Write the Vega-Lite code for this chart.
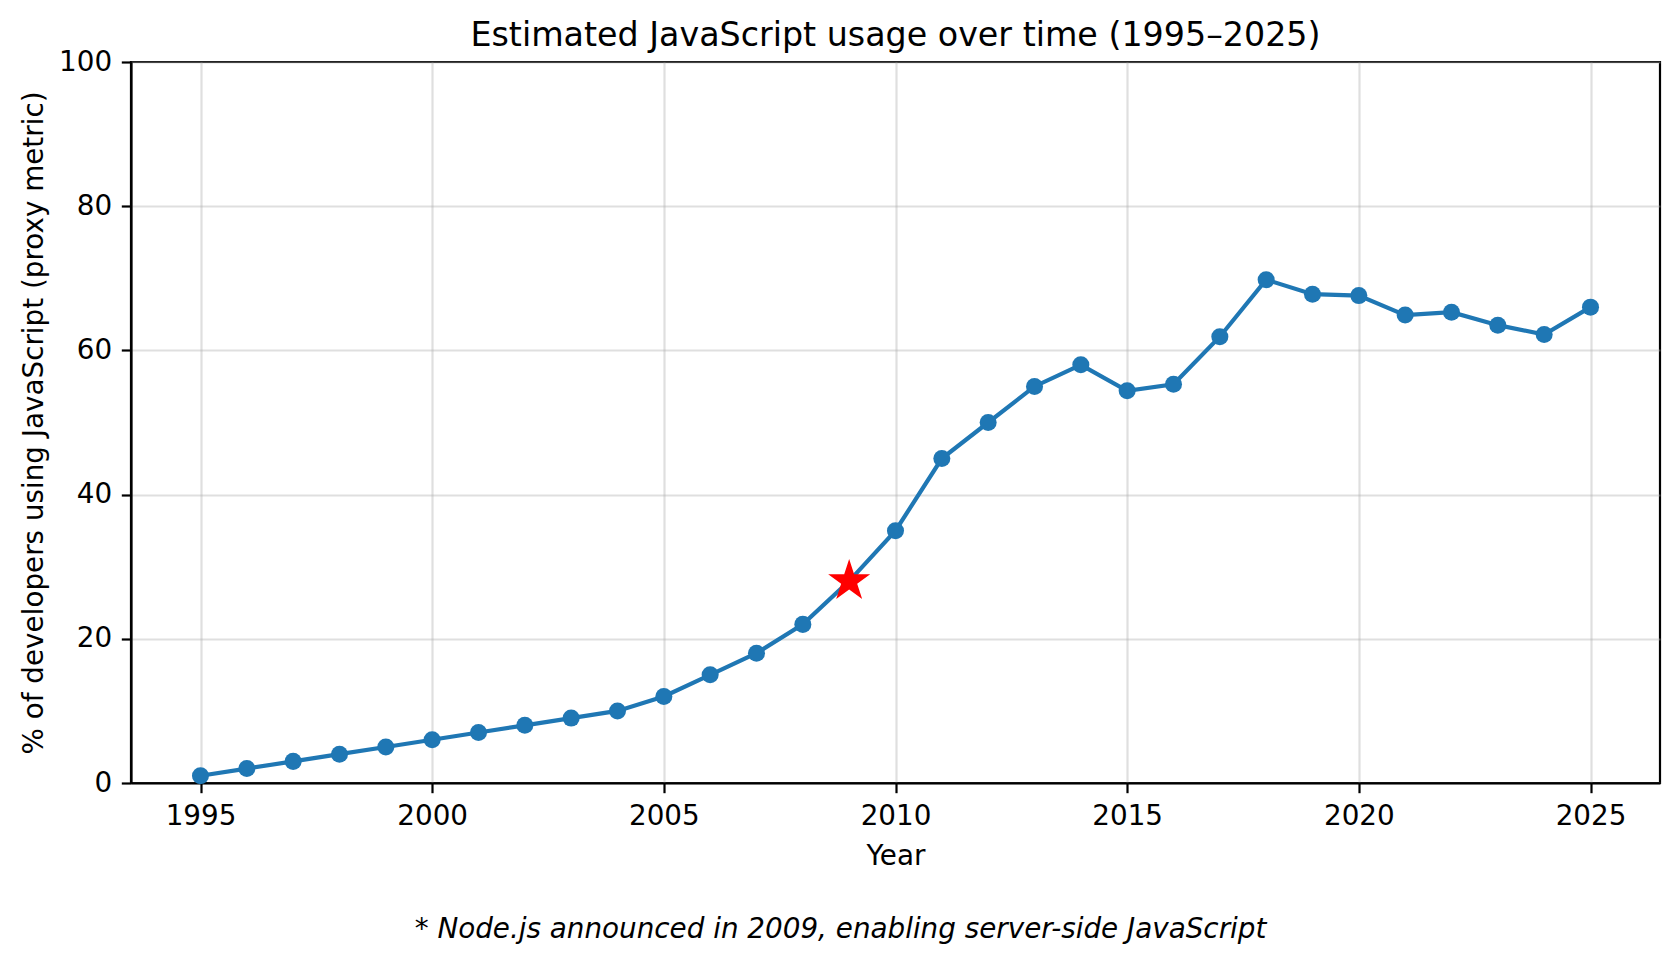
{
  "$schema": "https://vega.github.io/schema/vega-lite/v6.json",
  "width": 1529,
  "height": 721,
  "autosize": {"type": "none"},
  "padding": {"left": 131, "top": 62, "right": 20, "bottom": 181},
  "background": "white",
  "title": {
    "text": "Estimated JavaScript usage over time (1995–2025)",
    "font": "DejaVu Sans",
    "fontSize": 33.3,
    "fontWeight": "normal",
    "color": "black",
    "anchor": "middle",
    "baseline": "alphabetic",
    "offset": 16,
    "dy": 47.5
  },
  "config": {
    "view": {"stroke": "black", "strokeWidth": 2.2},
    "axis": {
      "labelFont": "DejaVu Sans",
      "titleFont": "DejaVu Sans",
      "labelFontSize": 27.8,
      "titleFontSize": 27.8,
      "labelColor": "black",
      "titleColor": "black",
      "titleFontWeight": "normal",
      "domainColor": "black",
      "domainWidth": 2.2,
      "tickColor": "black",
      "tickWidth": 2.2,
      "tickSize": 9.7,
      "labelPadding": 9.7,
      "gridColor": "#b0b0b0",
      "gridOpacity": 0.4,
      "gridWidth": 2.2,
      "labelFlush": false,
      "labelOverlap": false
    }
  },
  "data": {
    "values": [
      {"year": 1995, "pct": 1},
      {"year": 1996, "pct": 2},
      {"year": 1997, "pct": 3},
      {"year": 1998, "pct": 4},
      {"year": 1999, "pct": 5},
      {"year": 2000, "pct": 6},
      {"year": 2001, "pct": 7},
      {"year": 2002, "pct": 8},
      {"year": 2003, "pct": 9},
      {"year": 2004, "pct": 10},
      {"year": 2005, "pct": 12},
      {"year": 2006, "pct": 15},
      {"year": 2007, "pct": 18},
      {"year": 2008, "pct": 22},
      {"year": 2009, "pct": 28},
      {"year": 2010, "pct": 35},
      {"year": 2011, "pct": 45},
      {"year": 2012, "pct": 50},
      {"year": 2013, "pct": 55},
      {"year": 2014, "pct": 58},
      {"year": 2015, "pct": 54.4},
      {"year": 2016, "pct": 55.3},
      {"year": 2017, "pct": 61.9},
      {"year": 2018, "pct": 69.8},
      {"year": 2019, "pct": 67.8},
      {"year": 2020, "pct": 67.6},
      {"year": 2021, "pct": 64.9},
      {"year": 2022, "pct": 65.3},
      {"year": 2023, "pct": 63.5},
      {"year": 2024, "pct": 62.2},
      {"year": 2025, "pct": 66.0}
    ]
  },
  "encoding": {
    "y": {
      "field": "pct",
      "type": "quantitative",
      "scale": {"domain": [0, 100], "nice": false, "zero": false},
      "axis": {
        "title": "% of developers using JavaScript (proxy metric)",
        "values": [0, 20, 40, 60, 80, 100],
        "format": "d",
        "grid": true,
        "titleX": -89,
        "titleY": 360.5,
        "titleBaseline": "alphabetic"
      }
    }
  },
  "resolve": {"axis": {"x": "independent"}},
  "layer": [
    {
      "mark": {"type": "line", "color": "#1f77b4", "strokeWidth": 4.17},
      "encoding": {
        "x": {
          "field": "year",
          "type": "quantitative",
          "scale": {"domain": [1993.5, 2026.5], "nice": false, "zero": false},
          "axis": {
            "orient": "bottom",
            "title": "Year",
            "values": [1995, 2000, 2005, 2010, 2015, 2020, 2025],
            "format": "d",
            "grid": true,
            "titleY": 81,
            "titleBaseline": "alphabetic"
          }
        }
      }
    },
    {
      "transform": [{"filter": "datum.year != 2009"}],
      "mark": {"type": "circle", "color": "#1f77b4", "opacity": 1, "size": 290},
      "encoding": {
        "x": {
          "field": "year",
          "type": "quantitative",
          "scale": {"domain": [1993.5, 2026.5], "nice": false, "zero": false},
          "axis": {
            "orient": "bottom",
            "title": "* Node.js announced in 2009, enabling server-side JavaScript",
            "titleFontStyle": "italic",
            "labels": false,
            "ticks": false,
            "domain": false,
            "grid": false,
            "titleX": 709,
            "titleY": 154.7,
            "titleBaseline": "alphabetic"
          }
        }
      }
    },
    {
      "transform": [{"filter": "datum.year == 2009"}],
      "mark": {
        "type": "point",
        "shape": "M0,-1L0.2245,-0.309L0.951,-0.309L0.3633,0.118L0.588,0.809L0,0.382L-0.588,0.809L-0.3633,0.118L-0.951,-0.309L-0.2245,-0.309Z",
        "filled": true,
        "color": "red",
        "opacity": 1,
        "size": 1950
      },
      "encoding": {
        "x": {
          "field": "year",
          "type": "quantitative",
          "scale": {"domain": [1993.5, 2026.5], "nice": false, "zero": false},
          "axis": null
        }
      }
    }
  ]
}
